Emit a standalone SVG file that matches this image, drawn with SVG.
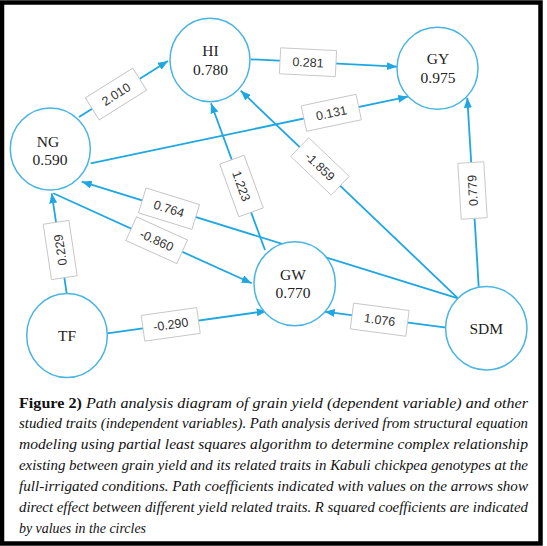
<svg xmlns="http://www.w3.org/2000/svg" width="547" height="546" viewBox="0 0 547 546">
<style>
.edge{stroke:#1ea7e1;stroke-width:1.8;fill:none;marker-end:url(#arr)}
.node{fill:#fff;stroke:#4ab4e2;stroke-width:1.5}
.nt{font-family:"Liberation Serif","Times New Roman",serif;font-size:15.5px;fill:#222;text-anchor:middle}
.lb rect{fill:#fff;stroke:#c4c4c4;stroke-width:0.9}
.lb text{font-family:"Liberation Sans",Arial,sans-serif;font-size:12.5px;fill:#333;text-anchor:middle}
.cap{font-family:"Liberation Serif","Times New Roman",serif;font-size:14.3px;font-style:italic;fill:#111}
.capb{font-style:normal;font-weight:bold}
</style>
<defs>
<marker id="arr" markerUnits="userSpaceOnUse" markerWidth="10" markerHeight="8" refX="10" refY="4" orient="auto">
<path d="M0,0 L10,4 L0,8 z" fill="#1ea7e1"/>
</marker>
</defs>
<rect x="0" y="0" width="547" height="546" fill="#fff"/>
<rect x="2" y="2.5" width="538.5" height="541" fill="#fff" stroke="#000" stroke-width="4.5"/>
<g id="connectors">
<g id="e-ng-hi"><line class="edge" x1="79" y1="117" x2="168" y2="61"/><g class="lb" transform="translate(116,94) rotate(-32.2)"><rect x="-28" y="-13" width="56" height="26"/><text y="4.5">2.010</text></g></g>
<g id="e-hi-gy"><line class="edge" x1="250.7" y1="59.3" x2="397" y2="66.7"/><g class="lb" transform="translate(308,62.2) rotate(2.9)"><rect x="-28" y="-13" width="56" height="26"/><text y="4.5">0.281</text></g></g>
<g id="e-ng-gy"><line class="edge" x1="90.7" y1="163.3" x2="408" y2="96.7"/><g class="lb" transform="translate(331.3,112.8) rotate(-11.9)"><rect x="-28" y="-13" width="56" height="26"/><text y="4.5">0.131</text></g></g>
<g id="e-gw-hi"><line class="edge" x1="265" y1="250" x2="211" y2="103.3"/><g class="lb" transform="translate(241.5,186) rotate(70)"><rect x="-28" y="-13" width="56" height="26"/><text y="4.5">1.223</text></g></g>
<g id="e-sdm-hi"><line class="edge" x1="458" y1="298.3" x2="240.7" y2="90.7"/><g class="lb" transform="translate(320,166.4) rotate(43.7)"><rect x="-28" y="-13" width="56" height="26"/><text y="4.5">-1.859</text></g></g>
<g id="e-sdm-gy"><line class="edge" x1="478.7" y1="286.7" x2="467.3" y2="97.7"/><g class="lb" transform="translate(472.5,190.5) rotate(-93.5)"><rect x="-28" y="-13" width="56" height="26"/><text y="4.5">0.779</text></g></g>
<g id="e-sdm-ng"><line class="edge" x1="458" y1="298.3" x2="81.7" y2="181.7"/><g class="lb" transform="translate(169,208.7) rotate(17.2)"><rect x="-28" y="-13" width="56" height="26"/><text y="4.5">0.764</text></g></g>
<g id="e-ng-gw"><line class="edge" x1="53.3" y1="193.3" x2="251.7" y2="283.3"/><g class="lb" transform="translate(156.7,240.2) rotate(24.4)"><rect x="-28" y="-13" width="56" height="26"/><text y="4.5">-0.860</text></g></g>
<g id="e-tf-ng"><line class="edge" x1="66.7" y1="293.3" x2="51.7" y2="193.3"/><g class="lb" transform="translate(60.2,250) rotate(-98.5)"><rect x="-28" y="-13" width="56" height="26"/><text y="4.5">0.229</text></g></g>
<g id="e-tf-gw"><line class="edge" x1="107.3" y1="333.3" x2="266.7" y2="311"/><g class="lb" transform="translate(170.7,324.4) rotate(-8)"><rect x="-28" y="-13" width="56" height="26"/><text y="4.5">-0.290</text></g></g>
<g id="e-sdm-gw"><line class="edge" x1="446.3" y1="327.7" x2="324.7" y2="311.7"/><g class="lb" transform="translate(379.7,319.7) rotate(7.5)"><rect x="-28" y="-13" width="56" height="26"/><text y="4.5">1.076</text></g></g>
</g>
<g id="HI"><ellipse class="node" cx="210" cy="60" rx="40" ry="41.7"/><text class="nt" x="210.5" y="56">HI</text><text class="nt" x="210.5" y="74.5">0.780</text></g>
<g id="GY"><ellipse class="node" cx="437.5" cy="68.3" rx="40.5" ry="41"/><text class="nt" x="438" y="63.5">GY</text><text class="nt" x="438" y="82.5">0.975</text></g>
<g id="NG"><ellipse class="node" cx="50.3" cy="149" rx="40" ry="41"/><text class="nt" x="48" y="147">NG</text><text class="nt" x="50" y="165.3">0.590</text></g>
<g id="GW"><ellipse class="node" cx="294.7" cy="283.7" rx="40.7" ry="42"/><text class="nt" x="293" y="279.5">GW</text><text class="nt" x="293" y="297.5">0.770</text></g>
<g id="TF"><ellipse class="node" cx="67" cy="335.5" rx="40.3" ry="42"/><text class="nt" x="67" y="341">TF</text></g>
<g id="SDM"><ellipse class="node" cx="486.3" cy="328.3" rx="40.7" ry="41.7"/><text class="nt" x="486.3" y="334">SDM</text></g>
<g id="caption">
<text class="cap" x="19" y="407.5" textLength="509" lengthAdjust="spacingAndGlyphs"><tspan class="capb">Figure 2)</tspan> Path analysis diagram of grain yield (dependent variable) and other</text>
<text class="cap" x="19" y="428.3" textLength="509" lengthAdjust="spacingAndGlyphs">studied traits (independent variables). Path analysis derived from structural equation</text>
<text class="cap" x="19" y="449.2" textLength="509" lengthAdjust="spacingAndGlyphs">modeling using partial least squares algorithm to determine complex relationship</text>
<text class="cap" x="19" y="470" textLength="509" lengthAdjust="spacingAndGlyphs">existing between grain yield and its related traits in Kabuli chickpea genotypes at the</text>
<text class="cap" x="19" y="490.8" textLength="509" lengthAdjust="spacingAndGlyphs">full-irrigated conditions. Path coefficients indicated with values on the arrows show</text>
<text class="cap" x="19" y="511.7" textLength="509" lengthAdjust="spacingAndGlyphs">direct effect between different yield related traits. R squared coefficients are indicated</text>
<text class="cap" x="19" y="532.5" textLength="127" lengthAdjust="spacingAndGlyphs">by values in the circles</text>
</g>
</svg>
